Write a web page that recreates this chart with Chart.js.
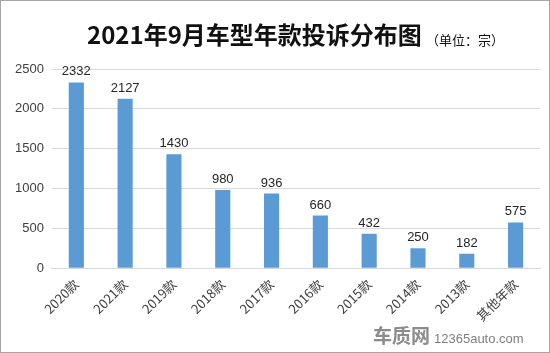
<!DOCTYPE html>
<html><head><meta charset="utf-8">
<script src="https://cdn.jsdelivr.net/npm/chart.js@4/dist/chart.umd.min.js"></script>
<style>
html,body{margin:0;padding:0;background:#fff;}
#wrap{position:relative;width:548px;height:351px;border:1px solid #a6a6a6;}
canvas{display:block;}
</style></head>
<body><div id="wrap"><canvas id="c" width="548" height="351"></canvas></div>
<script>
const categories = ["2020款","2021款","2019款","2018款","2017款","2016款","2015款","2014款","2013款","其他年款"];
const complaints = [2332,2127,1430,980,936,660,432,250,182,575];
const yTicks = [0,500,1000,1500,2000,2500];
const titleText = "2021年9月车型年款投诉分布图";
const unitText = "（单位：宗）";
const fontFam = '"Noto Sans CJK SC","DejaVu Sans",sans-serif';

const overlay = {
  id:'overlay',
  afterDatasetsDraw(chart){
    const ctx = chart.ctx;
    const meta = chart.getDatasetMeta(0);
    ctx.save();
    ctx.fillStyle = '#262626';
    ctx.font = '13px "Liberation Sans","DejaVu Sans",sans-serif';
    ctx.textAlign = 'center';
    ctx.textBaseline = 'bottom';
    meta.data.forEach((bar,i)=>{
      ctx.fillText(String(complaints[i]), bar.x, bar.y - 4);
    });
    // title
    ctx.fillStyle = '#111';
    ctx.font = 'bold 24px "Noto Sans CJK SC",sans-serif';
    ctx.textAlign = 'left';
    ctx.textBaseline = 'middle';
    ctx.fillText(titleText, 86, 34);
    ctx.font = '13px "Noto Sans CJK SC",sans-serif';
    ctx.fillText(unitText, 425, 39);
    // watermark
    ctx.fillStyle = '#8c8c8c';
    ctx.font = 'bold 19px "Noto Sans CJK SC",sans-serif';
    ctx.fillText('车质网', 372, 335);
    ctx.fillStyle = '#7f7f7f';
    ctx.font = '13px "Liberation Sans",sans-serif';
    ctx.fillText('12365auto.com', 433, 338);
    ctx.restore();
  }
};

new Chart(document.getElementById('c'),{
  type:'bar',
  data:{labels:categories,datasets:[{data:complaints,backgroundColor:'#5b9bd5',barPercentage:0.62,categoryPercentage:0.5}]},
  options:{
    responsive:false,animation:false,
    layout:{padding:{top:68,right:9,left:6,bottom:28}},
    plugins:{legend:{display:false},tooltip:{enabled:false}},
    scales:{
      x:{grid:{display:false},border:{color:'#d9d9d9'},
         afterFit(s){s.paddingLeft=0;s.paddingRight=0;},
         ticks:{color:'#404040',font:{size:13,family:fontFam},maxRotation:45,minRotation:45,padding:0}},
      y:{min:0,max:2500,afterBuildTicks(ax){ax.ticks=yTicks.map(v=>({value:v}));},
         grid:{color:'#d9d9d9',drawTicks:false},border:{display:false},
         ticks:{color:'#404040',font:{size:13,family:'"Liberation Sans",sans-serif'},padding:8,callback:(v)=>String(v)}}
    }
  },
  plugins:[overlay]
});
</script></body></html>
